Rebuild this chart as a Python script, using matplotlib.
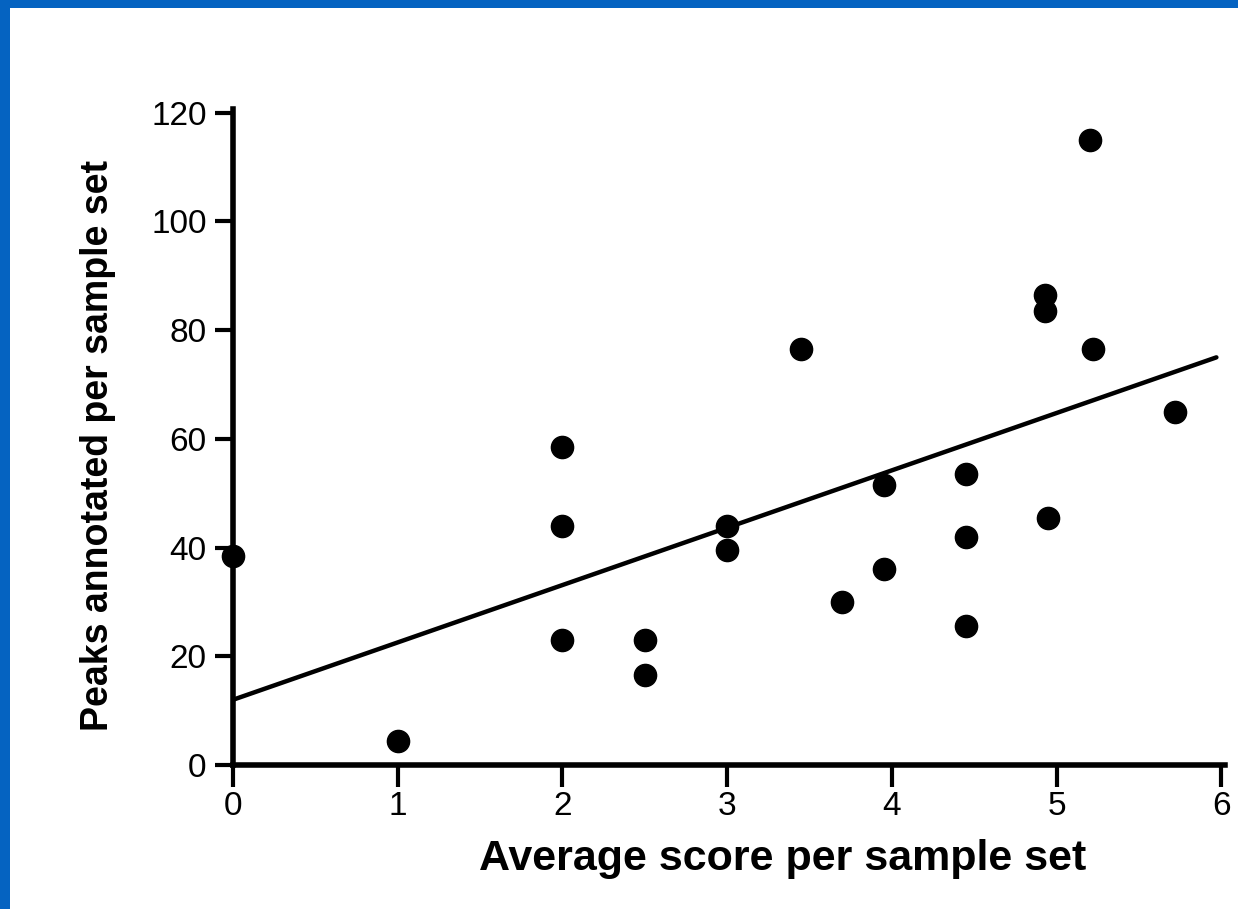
#!/usr/bin/env python3
"""Scanned scatter plot on a blue slide: peaks annotated vs average score."""

import matplotlib
matplotlib.use("Agg")
import matplotlib.pyplot as plt
from matplotlib.patches import Rectangle
import numpy as np

# Points
avg_score = [0.0, 1.0, 2.0, 2.0, 2.0, 2.5, 2.5, 3.0, 3.0, 3.45, 3.7,
             3.95, 3.95, 4.45, 4.45, 4.45, 4.93, 4.93, 4.95, 5.2, 5.22, 5.72]
peaks = [38.5, 4.5, 58.5, 44, 23, 23, 16.5, 44, 39.5, 76.5, 30,
         51.5, 36, 53.5, 42, 25.5, 86.5, 83.5, 45.5, 115, 76.5, 65]

# Regression line
fit_intercept = 12.0
fit_slope = 10.55
fit_x = [0.0, 5.97]

x_ticks = [0, 1, 2, 3, 4, 5, 6]
y_ticks = [0, 20, 40, 60, 80, 100, 120]

FONT = "Liberation Sans"


def main():
    fig = plt.figure(figsize=(12.38, 9.09), dpi=100, facecolor="#0563C1")
    # white slide area inside the blue frame
    fig.patches.append(Rectangle((10 / 1238, 0), 1, 1 - 8 / 909,
                                 transform=fig.transFigure, facecolor="white",
                                 edgecolor="none", zorder=-10))

    ax = fig.add_axes([0.1882, 0.1584, 0.801, 0.7213])
    ax.set_facecolor("none")

    ax.plot(avg_score, peaks, "o", color="black", markersize=16,
            clip_on=False, zorder=3)
    fx = np.array(fit_x)
    ax.plot(fx, fit_intercept + fit_slope * fx, color="black", lw=3.2,
            solid_capstyle="round", zorder=2)

    ax.set_xlim(0, 6.02)
    ax.set_ylim(0, 120.6)
    ax.set_xticks(x_ticks)
    ax.set_yticks(y_ticks)
    ax.set_xticklabels([str(t) for t in x_ticks], fontfamily=FONT, fontsize=24)
    ax.set_yticklabels([str(t) for t in y_ticks], fontfamily=FONT, fontsize=24)
    ax.tick_params(axis="both", direction="out", width=3, color="black")
    ax.tick_params(axis="y", length=13, pad=6)
    ax.tick_params(axis="x", length=16, pad=3)

    for side in ("top", "right"):
        ax.spines[side].set_visible(False)
    for side in ("left", "bottom"):
        ax.spines[side].set_linewidth(4)
        ax.spines[side].set_color("black")

    ax.set_xlabel("Average score per sample set", fontfamily=FONT,
                  fontweight="bold", fontsize=31)
    ax.xaxis.set_label_coords(0.554, -0.113)
    ax.set_ylabel("Peaks annotated per sample set", fontfamily=FONT,
                  fontweight="bold", fontsize=27)
    ax.yaxis.set_label_coords(-0.118, 0.488)

    fig.savefig("out.png", dpi=100, facecolor=fig.get_facecolor())


if __name__ == "__main__":
    main()
